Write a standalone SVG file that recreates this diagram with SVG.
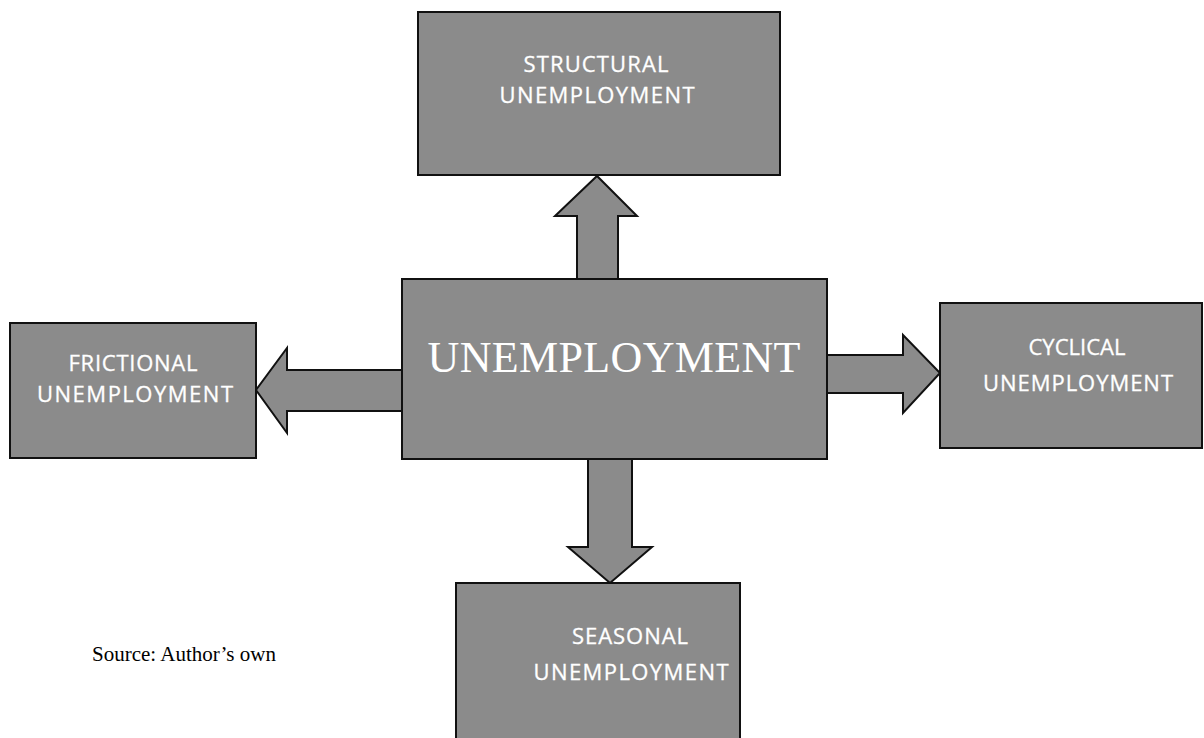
<svg xmlns="http://www.w3.org/2000/svg" width="1204" height="738" viewBox="0 0 1204 738">
<style>
.box{fill:#8b8b8b;stroke:#111;stroke-width:2}
.arr{fill:#8b8b8b;stroke:#111;stroke-width:2;stroke-linejoin:miter}
.lbl{font-family:"Open Sans","Liberation Sans",sans-serif;font-size:22px;fill:#fff;text-anchor:middle;stroke:#fff;stroke-width:0.3}
.main{font-family:"Liberation Serif","Times New Roman",serif;font-size:44px;fill:#fff;text-anchor:middle}
.src{font-family:"Liberation Serif","Times New Roman",serif;font-size:21px;fill:#000}
</style>
<rect width="1204" height="738" fill="#fff"/>
<g id="connectors">
<polygon class="arr" points="577,279 577,216 555,216 597,176 637,216 618,216 618,279"/>
<polygon class="arr" points="402,370 287,370 287,348 256,390 287,433 287,411 402,411"/>
<polygon class="arr" points="827,355 903,355 903,335 940,373 903,413 903,393 827,393"/>
<polygon class="arr" points="588,459 588,547 568,547 610,583 652,547 632,547 632,459"/>
</g>
<g id="structural">
<rect class="box" x="418" y="12" width="362" height="163"/>
<text class="lbl" x="596" y="72" textLength="145">STRUCTURAL</text>
<text class="lbl" x="597" y="103" textLength="195">UNEMPLOYMENT</text>
</g>
<g id="unemployment">
<rect class="box" x="402" y="279" width="425" height="180"/>
<text class="main" x="614" y="372" textLength="373">UNEMPLOYMENT</text>
</g>
<g id="frictional">
<rect class="box" x="10" y="323" width="246" height="135"/>
<text class="lbl" x="133" y="371" textLength="129">FRICTIONAL</text>
<text class="lbl" x="135" y="402" textLength="196">UNEMPLOYMENT</text>
</g>
<g id="cyclical">
<rect class="box" x="940" y="303" width="262" height="145"/>
<text class="lbl" x="1077" y="355" textLength="97">CYCLICAL</text>
<text class="lbl" x="1078" y="391" textLength="190">UNEMPLOYMENT</text>
</g>
<g id="seasonal">
<rect class="box" x="456" y="583" width="284" height="170"/>
<text class="lbl" x="630" y="644" textLength="116">SEASONAL</text>
<text class="lbl" x="631" y="680" textLength="195">UNEMPLOYMENT</text>
</g>
<text class="src" x="92" y="661">Source: Author’s own</text>
</svg>
